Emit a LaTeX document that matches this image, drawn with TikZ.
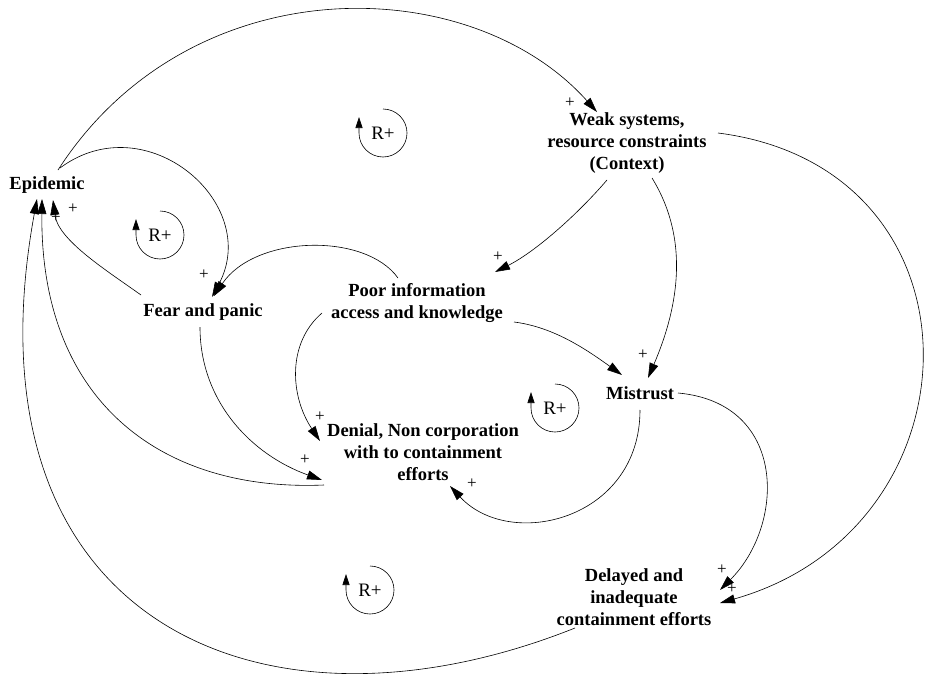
\documentclass[tikz,border=0pt]{standalone}
\usepackage{fontspec}
\setmainfont{Liberation Serif}
\usetikzlibrary{arrows.meta, calc}

\begin{document}
\begin{tikzpicture}[
  x=1pt, y=-1pt,
  var/.style={align=center, font=\fontsize{18.5}{22}\selectfont\bfseries, inner sep=1pt},
  lnk/.style={line width=0.6pt, -{Triangle[length=15pt,width=9pt]}},
  pls/.style={font=\fontsize{17}{17}\selectfont, inner sep=0pt},
  rtag/.style={font=\fontsize{19}{20}\selectfont, inner sep=0pt},
  rarc/.style={line width=0.6pt, -{Triangle[length=11pt,width=7pt]}}
]
  \useasboundingbox (0,0) rectangle (926,677);

  % variables
  \node[var] (epi) at (47,185) {Epidemic};
  \node[var] (weak) at (627,143) {Weak systems,\\resource constraints\\(Context)};
  \node[var] (fear) at (203,312) {Fear and panic};
  \node[var] (poor) at (417,303) {Poor information\\access and knowledge};
  \node[var] (mis) at (640,393) {Mistrust};
  \node[var] (den) at (423,452) {Denial, Non corporation\\with to containment\\efforts};
  \node[var] (del) at (634,597) {Delayed and\\inadequate\\containment efforts};

  % causal links
  \draw[lnk] ($(epi)+(11,-15)$) .. controls +(132,-205) and +(-127,-142) .. ($(weak)+(-30,-31)$);
  \draw[lnk] ($(epi)+(13,-17)$) .. controls +(86,-64) and +(50,-94) .. ($(fear)+(9,-15)$);
  \draw[lnk] ($(fear)+(-62,-17)$) .. controls +(-35,-25) and +(5,40) .. ($(epi)+(6,15)$);
  \draw[lnk] ($(poor)+(-19,-25)$) .. controls +(-33,-46) and +(41,-61) .. ($(fear)+(11,-16)$);
  \draw[lnk] ($(poor)+(-95,10)$) .. controls +(-35,30) and +(-30,-45) .. ($(den)+(-103,-11)$);
  \draw[lnk] ($(fear)+(-3,15)$) .. controls +(0,75) and +(-70,-25) .. ($(den)+(-101,28)$);
  \draw[lnk] ($(den)+(-99,33)$) .. controls +(-164,7) and +(-2,201) .. ($(epi)+(-5,14)$);
  \draw[lnk] ($(del)+(-59,31)$) .. controls +(-316,126) and +(-77,421) .. ($(epi)+(-10,14)$);
  \draw[lnk] ($(weak)+(-20,37)$) .. controls +(-30,35) and +(40,-20) .. ($(poor)+(78,-31)$);
  \draw[lnk] ($(weak)+(25,35)$) .. controls +(40,65) and +(28,-65) .. ($(mis)+(8,-15)$);
  \draw[lnk] ($(poor)+(97,19)$) .. controls +(40,5) and +(-35,-25) .. ($(mis)+(-18,-18)$);
  \draw[lnk] ($(mis)+(0,17)$) .. controls +(0,110) and +(60,65) .. ($(den)+(27,34)$);
  \draw[lnk] ($(mis)+(38,0)$) .. controls +(110,10) and +(65,-65) .. ($(del)+(86,-7)$);
  \draw[lnk] ($(weak)+(91,-10)$) .. controls +(275,35) and +(265,-75) .. ($(del)+(86,6)$);

  % polarities
  \node[pls] (pw) at (570,103) {+};
  \node[pls] (pf) at (204,275) {+};
  \node[pls] (pe1) at (73,209) {+};
  \node[pls] (pe2) at (56,218) {+};
  \node[pls] (pp) at (498,257) {+};
  \node[pls] (pm) at (643,355) {+};
  \node[pls] (pd1) at (320,417) {+};
  \node[pls] (pd2) at (305,460) {+};
  \node[pls] (pd3) at (472,484) {+};
  \node[pls] (pl1) at (722,570) {+};
  \node[pls] (pl2) at (732,589) {+};

  % reinforcing loops
  \node[rtag] (r1) at (383,133) {R+};
  \node[rtag] (r2) at (160,235) {R+};
  \node[rtag] (r3) at (555,408) {R+};
  \node[rtag] (r4) at (370,590) {R+};
  \draw[rarc] (r1) ++(90:24pt) arc[start angle=90, end angle=-180, radius=24pt] -- ++(0,-16);
  \draw[rarc] (r2) ++(90:24pt) arc[start angle=90, end angle=-180, radius=24pt] -- ++(0,-16);
  \draw[rarc] (r3) ++(90:24pt) arc[start angle=90, end angle=-180, radius=24pt] -- ++(0,-16);
  \draw[rarc] (r4) ++(90:24pt) arc[start angle=90, end angle=-180, radius=24pt] -- ++(0,-16);
\end{tikzpicture}
\end{document}
